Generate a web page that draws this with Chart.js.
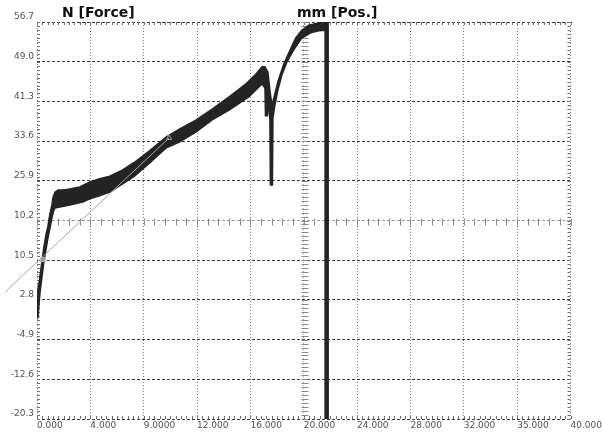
<!DOCTYPE html>
<html>
<head>
<meta charset="utf-8">
<style>
  html, body { margin: 0; padding: 0; background: #ffffff; }
  #wrap { width: 603px; height: 435px; }
</style>
<script src="https://cdn.jsdelivr.net/npm/chart.js@4/dist/chart.umd.min.js"></script>
</head>
<body>
<div id="wrap"><canvas id="chart" width="603" height="435"></canvas></div>
<script>
// Force / position trace of the test (mm, N)
// Upper outline of the recorded trace, walking forward in position
const upperPos   = [0.0, 0.0, 0.07, 0.22, 0.37, 0.52, 0.67, 0.82, 0.97, 1.12, 1.19, 1.34, 1.57, 1.94, 2.46, 3.21, 3.96, 4.70, 5.45, 6.42, 7.31, 8.43, 9.70, 10.67, 11.94, 13.13, 14.40, 15.67, 16.42, 16.87, 17.09, 17.31, 17.46, 17.61, 17.76, 18.06, 18.51, 18.88, 19.40, 19.85, 20.37, 21.12, 21.83, 21.83];
const upperForce = [-0.7, 1.8, 4.1, 7.4, 10.3, 13.1, 15.4, 17.1, 19.5, 21.2, 22.6, 23.7, 24.1, 24.1, 24.3, 24.7, 25.7, 26.3, 26.8, 28.0, 29.5, 31.7, 34.4, 35.9, 37.7, 39.8, 42.2, 44.7, 46.6, 48.0, 48.0, 47.0, 43.5, 40.6, 42.0, 45.1, 48.6, 50.7, 53.6, 55.1, 56.1, 56.5, 56.6, -20.3];
// Lower outline, walking back from the break to the start
const lowerPos   = [21.60, 21.60, 21.12, 20.52, 19.85, 19.25, 18.73, 18.36, 18.06, 17.84, 17.69, 17.65, 17.50, 17.46, 17.39, 17.28, 17.13, 17.09, 16.87, 15.90, 14.40, 13.13, 11.94, 10.67, 9.70, 8.43, 7.31, 6.42, 5.45, 4.70, 3.96, 3.43, 2.46, 1.72, 1.34, 1.23, 1.12, 0.97, 0.82, 0.67, 0.52, 0.37, 0.22, 0.15, 0.07];
const lowerForce = [-20.3, 55.1, 55.0, 54.6, 53.6, 51.3, 48.9, 46.4, 43.5, 40.6, 38.1, 25.1, 25.1, 37.7, 41.6, 38.5, 38.5, 43.9, 44.7, 42.2, 39.6, 37.7, 35.4, 33.4, 32.3, 29.3, 26.8, 25.3, 23.7, 23.0, 22.4, 21.8, 21.2, 20.8, 20.6, 19.9, 18.7, 16.7, 14.8, 12.5, 10.2, 7.2, 4.1, 1.8, -0.7];

// Slope (modulus) line and its marker
const slopePos   = [-2.4, 9.9];
const slopeForce = [4.3, 34.2];
const markPos    = [0.45];
const markForce  = [10.6];

// Axis ticks and their printed labels
const xTickLabels = ['0.000', '4.000', '9.0000', '12.000', '16.000', '20.000', '24.000', '28.000', '32.000', '35.000', '40.000'];
const yTickLabels = ['-20.3', '-12.6', '-4.9', '2.8', '10.5', '10.2', '25.9', '33.6', '41.3', '49.0', '56.7'];
const X_MIN = 0, X_MAX = 40, X_STEP = 4;
const Y_MIN = -20.3, Y_MAX = 56.7, Y_STEP = 7.7;
const RULER_Y_INDEX = 5;   // horizontal ruler sits on this force tick
const RULER_X = 20;        // vertical ruler position, mm

const toPoints = (xs, ys) => xs.map((v, i) => ({ x: v, y: ys[i] }));
const outline = toPoints(upperPos, upperForce).concat(toPoints(lowerPos, lowerForce));

// Minor ticks along the frame plus the two ruler lines
const rulers = {
  id: 'rulers',
  beforeDatasetsDraw(chart) {
    const { ctx, chartArea: a, scales: { x, y } } = chart;
    const seg = (x1, y1, x2, y2) => { ctx.moveTo(x1, y1); ctx.lineTo(x2, y2); };
    const px = v => Math.round(x.getPixelForValue(v)) + 0.5;
    const py = v => Math.round(y.getPixelForValue(v)) + 0.5;
    ctx.save();
    ctx.lineWidth = 1;
    ctx.strokeStyle = '#707070';
    ctx.beginPath();
    const ny = Math.round((Y_MAX - Y_MIN) / Y_STEP) * 10;
    for (let i = 0; i <= ny; i++) {
      const p = py(Y_MIN + i * Y_STEP / 10);
      seg(a.left, p, a.left + 3, p);
      seg(a.right - 3, p, a.right, p);
    }
    const nx = Math.round((X_MAX - X_MIN) / X_STEP) * 10;
    for (let i = 0; i <= nx; i++) {
      const p = px(X_MIN + i * X_STEP / 10);
      seg(p, a.top, p, a.top + 3);
      seg(p, a.bottom - 3, p, a.bottom);
    }
    ctx.stroke();

    ctx.strokeStyle = '#8a8a8a';
    ctx.beginPath();
    const ry = py(Y_MIN + RULER_Y_INDEX * Y_STEP);
    for (let i = 0; i <= (X_MAX - X_MIN) / X_STEP * 5; i++) {
      const p = px(X_MIN + i * X_STEP / 5);
      seg(p, ry - 3, p, ry + 4);
    }
    const rx = px(RULER_X);
    for (let i = 0; i <= ny; i++) {
      const p = py(Y_MIN + i * Y_STEP / 10);
      seg(rx - 3, p, rx + 4, p);
    }
    ctx.stroke();
    ctx.restore();
  }
};

// Channel names above the plot
const channelTitles = {
  id: 'channelTitles',
  afterDraw(chart) {
    const { ctx, chartArea: a } = chart;
    ctx.save();
    ctx.font = 'bold 14px "DejaVu Sans", sans-serif';
    ctx.fillStyle = '#111111';
    ctx.textAlign = 'left';
    ctx.textBaseline = 'alphabetic';
    ctx.fillText('N [Force]', a.left + 25, a.top - 5);
    ctx.fillText('mm [Pos.]', a.left + 260, a.top - 5);
    ctx.restore();
  }
};

new Chart(document.getElementById('chart'), {
  type: 'scatter',
  data: {
    datasets: [
      {
        label: 'slope',
        data: toPoints(slopePos, slopeForce),
        showLine: true,
        clip: false,
        borderColor: '#a4a4a4',
        borderWidth: 1,
        pointRadius: [0, 3],
        pointStyle: 'triangle',
        pointBorderColor: '#9a9a9a',
        pointBackgroundColor: 'rgba(255,255,255,0)',
        pointBorderWidth: 1
      },
      {
        label: 'marker',
        data: toPoints(markPos, markForce),
        showLine: false,
        pointStyle: 'rect',
        pointRadius: 3,
        pointBackgroundColor: '#a0a0a0',
        pointBorderColor: '#a0a0a0'
      },
      {
        label: 'N [Force]',
        data: outline,
        showLine: true,
        fill: 'shape',
        backgroundColor: '#242424',
        borderColor: '#242424',
        borderWidth: 1.5,
        pointRadius: 0,
        tension: 0
      }
    ]
  },
  options: {
    responsive: false,
    animation: false,
    devicePixelRatio: 1,
    layout: { padding: { top: 22, right: 30, left: 0, bottom: 0 } },
    plugins: {
      legend: { display: false },
      tooltip: { enabled: false }
    },
    scales: {
      x: {
        type: 'linear',
        min: X_MIN,
        max: X_MAX,
        afterFit(scale) { scale.height = 16; },
        border: { display: false, dash: [1, 2] },
        grid: {
          drawTicks: false,
          color: ctx => (ctx.index === 5 ? '#a8a8a8' : '#7a7a7a'),
          lineWidth: 1
        },
        ticks: {
          stepSize: X_STEP,
          autoSkip: false,
          maxRotation: 0,
          align: 'start',
          padding: 1,
          color: '#505050',
          font: { family: '"DejaVu Sans", sans-serif', size: 9 },
          callback: (value, index) => xTickLabels[index]
        }
      },
      y: {
        type: 'linear',
        min: Y_MIN,
        max: Y_MAX,
        afterFit(scale) { scale.width = 37; },
        border: { display: false, dash: [3, 2] },
        grid: {
          drawTicks: false,
          color: ctx => (ctx.index === RULER_Y_INDEX ? '#9a9a9a' : '#3a3a3a'),
          lineWidth: 1
        },
        ticks: {
          stepSize: Y_STEP,
          autoSkip: false,
          padding: 3,
          labelOffset: -5,
          color: '#505050',
          font: { family: '"DejaVu Sans", sans-serif', size: 9 },
          callback: (value, index) => yTickLabels[index]
        }
      }
    }
  },
  plugins: [rulers, channelTitles]
});
</script>
</body>
</html>
